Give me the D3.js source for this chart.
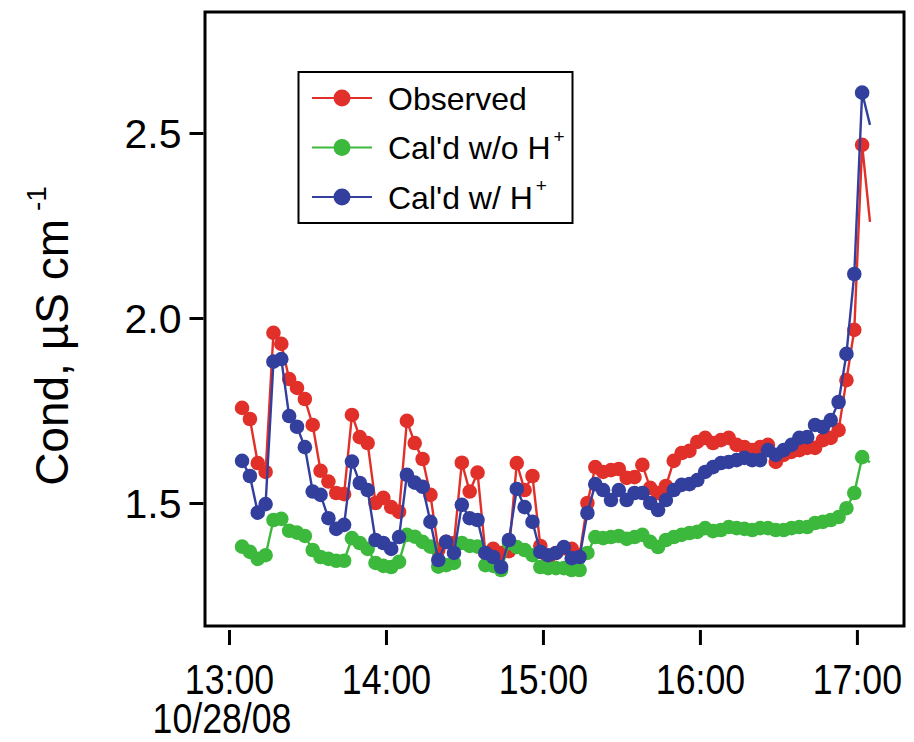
<!DOCTYPE html>
<html>
<head>
<meta charset="utf-8">
<script src="https://cdn.jsdelivr.net/npm/d3@7"></script>
<style>
  html, body { margin: 0; padding: 0; background: #fff; }
  svg { display: block; font-family: "Liberation Sans", Arial, Helvetica, sans-serif; }
</style>
</head>
<body>
<svg id="chart" width="914" height="742"></svg>
<script>
// Sampling times on 10/28/08 (3-minute intervals)
const times = [
  "13:05","13:08","13:11","13:14","13:17","13:20","13:23","13:26","13:29","13:32",
  "13:35","13:38","13:41","13:44","13:47","13:50","13:53","13:56","13:59","14:02",
  "14:05","14:08","14:11","14:14","14:17","14:20","14:23","14:26","14:29","14:32",
  "14:35","14:38","14:41","14:44","14:47","14:50","14:53","14:56","14:59","15:02",
  "15:05","15:08","15:11","15:14","15:17","15:20","15:23","15:26","15:29","15:32",
  "15:35","15:38","15:41","15:44","15:47","15:50","15:53","15:56","15:59","16:02",
  "16:05","16:08","16:11","16:14","16:17","16:20","16:23","16:26","16:29","16:32",
  "16:35","16:38","16:41","16:44","16:47","16:50","16:53","16:56","16:59","17:02",
  "17:05"
];

// Observed conductivity, µS/cm
const observed = [
  1.757,1.727,1.608,1.584,1.960,1.930,1.835,1.811,1.781,1.711,
  1.587,1.558,1.527,1.524,1.738,1.678,1.662,1.500,1.514,1.489,
  1.476,1.722,1.662,1.619,1.522,1.373,1.395,1.392,1.609,1.531,
  1.582,1.365,1.376,1.365,1.370,1.608,1.535,1.573,1.384,1.351,
  1.365,1.378,1.376,1.359,1.500,1.597,1.584,1.589,1.592,1.568,
  1.570,1.603,1.541,1.527,1.546,1.614,1.635,1.641,1.665,1.676,
  1.662,1.670,1.676,1.657,1.651,1.643,1.651,1.657,1.611,1.630,
  1.638,1.643,1.649,1.649,1.670,1.676,1.697,1.832,1.968,2.468,
  2.260
];

// Calculated conductivity without H+
const calcNoH = [
  1.382,1.368,1.349,1.359,1.454,1.457,1.425,1.420,1.411,1.373,
  1.354,1.349,1.344,1.344,1.405,1.392,1.376,1.338,1.330,1.327,
  1.341,1.414,1.409,1.395,1.382,1.328,1.332,1.338,1.392,1.384,
  1.382,1.332,1.330,1.319,1.392,1.381,1.373,1.359,1.327,1.324,
  1.324,1.324,1.319,1.319,1.365,1.408,1.405,1.408,1.411,1.403,
  1.408,1.414,1.395,1.381,1.400,1.408,1.414,1.419,1.422,1.432,
  1.424,1.427,1.435,1.432,1.430,1.427,1.432,1.432,1.427,1.427,
  1.432,1.435,1.435,1.446,1.449,1.454,1.462,1.486,1.527,1.624,
  1.610
];

// Calculated conductivity with H+
const calcWithH = [
  1.614,1.573,1.474,1.497,1.882,1.889,1.735,1.706,1.651,1.531,
  1.522,1.459,1.430,1.441,1.612,1.554,1.535,1.400,1.392,1.376,
  1.408,1.576,1.555,1.544,1.449,1.346,1.395,1.365,1.495,1.459,
  1.454,1.365,1.354,1.327,1.400,1.538,1.489,1.449,1.368,1.359,
  1.365,1.381,1.351,1.354,1.473,1.551,1.535,1.508,1.535,1.508,
  1.527,1.527,1.500,1.481,1.508,1.535,1.549,1.551,1.562,1.584,
  1.597,1.608,1.611,1.616,1.622,1.616,1.616,1.643,1.630,1.643,
  1.657,1.676,1.678,1.711,1.705,1.724,1.773,1.903,2.119,2.609,
  2.522
];

const xTickTimes = ["13:00","14:00","15:00","16:00","17:00"];
const yTickValues = [1.5, 2.0, 2.5];
const dateLabel = "10/28/08";

const seriesNames = ["Observed", "Cal'd w/o H", "Cal'd w/ H"];
const seriesSup = ["", "+", "+"];
const seriesColors = ["#e1302a", "#3cb93c", "#323f9d"];

// ---------------------------------------------------------------
const svg = d3.select("#chart");
const frame = { left: 205, right: 904, top: 12, bottom: 626 };

const parseTime = s => {
  const [h, m] = s.split(":").map(Number);
  return new Date(2008, 9, 28, h, m, 0);
};

const x = d3.scaleTime()
  .domain([new Date(2008, 9, 28, 12, 50, 50), new Date(2008, 9, 28, 17, 18, 0)])
  .range([frame.left, frame.right]);

const y = d3.scaleLinear()
  .domain([1.1676, 2.827])
  .range([frame.bottom, frame.top]);

const series = [observed, calcNoH, calcWithH].map((vals, k) => ({
  name: seriesNames[k],
  sup: seriesSup[k],
  color: seriesColors[k],
  points: vals.map((v, i) => ({ t: parseTime(times[i]), v }))
}));

// Plot area clip
svg.append("defs").append("clipPath").attr("id", "plotClip")
  .append("rect")
  .attr("x", frame.left).attr("y", frame.top)
  .attr("width", frame.right - frame.left)
  .attr("height", frame.bottom - frame.top);

const plot = svg.append("g").attr("clip-path", "url(#plotClip)");

const line = d3.line().x(d => x(d.t)).y(d => y(d.v));

series.forEach(s => {
  const g = plot.append("g");
  g.append("path")
    .attr("d", line(s.points))
    .attr("fill", "none")
    .attr("stroke", s.color)
    .attr("stroke-width", 2.4);
  // the final reading is a trace end without a marker
  g.selectAll("circle")
    .data(s.points.slice(0, -1))
    .join("circle")
    .attr("cx", d => x(d.t))
    .attr("cy", d => y(d.v))
    .attr("r", 7.3)
    .attr("fill", s.color);
});

// Frame
svg.append("rect")
  .attr("x", frame.left).attr("y", frame.top)
  .attr("width", frame.right - frame.left)
  .attr("height", frame.bottom - frame.top)
  .attr("fill", "none")
  .attr("stroke", "#000")
  .attr("stroke-width", 3);

// Left axis
const yAxis = d3.axisLeft(y)
  .tickValues(yTickValues)
  .tickFormat(d3.format(".1f"))
  .tickSize(14)
  .tickPadding(8);

const gy = svg.append("g")
  .attr("transform", `translate(${frame.left - 1.5},0)`)
  .call(yAxis);
gy.select(".domain").remove();
gy.selectAll(".tick line").attr("stroke", "#000").attr("stroke-width", 3);
gy.selectAll(".tick text")
  .attr("fill", "#000")
  .style("font-size", "41px")
  .attr("dy", "0.36em");

// Bottom axis (offset slightly below the frame)
const xAxis = d3.axisBottom(x)
  .tickValues(xTickTimes.map(parseTime))
  .tickFormat(d3.timeFormat("%H:%M"))
  .tickSize(15)
  .tickPadding(0);

const gx = svg.append("g")
  .attr("transform", `translate(0,${frame.bottom + 4})`)
  .call(xAxis);
gx.select(".domain").remove();
gx.selectAll(".tick line").attr("stroke", "#000").attr("stroke-width", 3);
gx.selectAll(".tick text").remove();

gx.selectAll(".tick").append("text")
  .attr("transform", "translate(0,64) scale(0.83,1)")
  .attr("text-anchor", "middle")
  .attr("fill", "#000")
  .style("font-size", "43px")
  .text(d => d3.timeFormat("%H:%M")(d));

svg.append("text")
  .attr("transform", `translate(${x(parseTime(xTickTimes[0])) - 7},733) scale(0.83,1)`)
  .attr("text-anchor", "middle")
  .attr("fill", "#000")
  .style("font-size", "43px")
  .text(dateLabel);

// Y axis title
const yTitle = svg.append("text")
  .attr("transform", "translate(68,336) rotate(-90)")
  .attr("text-anchor", "middle")
  .attr("fill", "#000")
  .style("font-size", "46px");
yTitle.append("tspan").text("Cond, \u00b5S cm");
yTitle.append("tspan")
  .attr("dx", 8)
  .attr("dy", "-0.8em")
  .style("font-size", "28px")
  .text("-1");

// Legend
const legend = svg.append("g");
legend.append("rect")
  .attr("x", 298.5).attr("y", 72)
  .attr("width", 274).attr("height", 151)
  .attr("fill", "#fff")
  .attr("stroke", "#000")
  .attr("stroke-width", 2);

series.forEach((s, k) => {
  const cy = 98 + k * 49.5;
  const row = legend.append("g");
  row.append("line")
    .attr("x1", 312).attr("x2", 372)
    .attr("y1", cy).attr("y2", cy)
    .attr("stroke", s.color).attr("stroke-width", 2);
  row.append("circle")
    .attr("cx", 342).attr("cy", cy).attr("r", 8.5)
    .attr("fill", s.color);
  const t = row.append("text")
    .attr("x", 388).attr("y", cy + 11.5)
    .attr("fill", "#000")
    .style("font-size", "32px");
  t.append("tspan").text(s.name);
  if (s.sup) {
    t.append("tspan")
      .attr("dx", 3)
      .attr("dy", "-0.85em")
      .style("font-size", "19px")
      .text(s.sup);
  }
});
</script>
</body>
</html>
